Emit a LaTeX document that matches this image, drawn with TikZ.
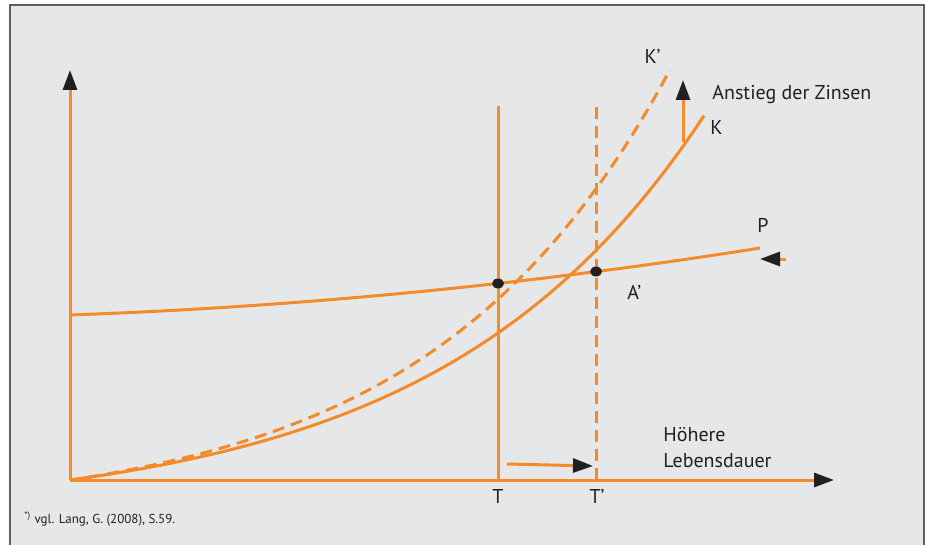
\documentclass[tikz,border=0pt]{standalone}
\usepackage{fontspec}
\setmainfont{PT Sans}
\usetikzlibrary{arrows.meta}

\definecolor{curve}{HTML}{F58A2A}
\definecolor{panel}{HTML}{E6E7E9}
\definecolor{frame}{HTML}{5F5F5F}
\definecolor{ink}{HTML}{231F20}

\tikzset{
    curveline/.style={draw=curve,line width=1.5pt},
    dashline/.style={curveline,dash pattern=on 6pt off 3.5pt},
    blacktip/.style={-{Triangle[length=10pt,width=7pt,color=ink]}},
    lbl/.style={text=ink,inner sep=0pt,font=\fontsize{10}{12}\selectfont}
}

\begin{document}
\begin{tikzpicture}[x=0.5pt,y=-0.5pt]

    \useasboundingbox (0,0) rectangle (930,545);

    % panel and frame
    \fill[panel] (10,5) rectangle (924,545);
    \draw[frame,line width=1pt] (10,545) -- (10,5) -- (924,5) -- (924,545);

    % axes
    \coordinate (O) at (70,480);
    \coordinate (Ytop) at (70,70);
    \coordinate (Xend) at (834,480);
    \draw[curveline,blacktip] (O) -- (Ytop);
    \draw[curveline,blacktip] (O) -- (Xend);

    % lifetimes T and T'
    \coordinate (T) at (498,480);
    \coordinate (Tp) at (596,480);
    \draw[curveline] (T) -- (498,106);
    \draw[dashline] (Tp) -- (596,106);
    \node[lbl,anchor=north] (labT) at (498,489) {T};
    \node[lbl,anchor=north] (labTp) at (597,489) {T'};

    % shift of T
    \coordinate (shiftA) at (507,464);
    \coordinate (shiftB) at (593,466);
    \draw[curveline,blacktip] (shiftA) -- (shiftB);
    \node[lbl,anchor=north west,align=left] (hoehere) at (663,427)
        {Höhere\\[1pt]Lebensdauer};

    % P curve
    \draw[curveline] plot[domain=0:690,samples=60]
        ({70+\x},{315-0.0357*\x-0.889*(\x/100)^2});
    \node[lbl,anchor=south west] (labP) at (757,233) {P};
    \coordinate (pA) at (786,259);
    \coordinate (pB) at (760,259);
    \draw[curveline,blacktip] (pA) -- (pB);

    % K curve
    \draw[curveline] plot[domain=0:634,samples=80]
        ({70+\x},{480-36*(exp(0.0038*\x)-1)});
    \node[lbl,anchor=west] (labK) at (710,128) {K};

    % K' curve (higher interest)
    \draw[dashline] plot[domain=0:600,samples=80]
        ({70+\x},{480-36*(exp(0.0042*\x)-1)});
    \node[lbl,anchor=east] (labKp) at (661,56) {K'};

    % rise of interest
    \coordinate (riseA) at (683,142);
    \coordinate (riseB) at (683,80);
    \draw[curveline,blacktip] (riseA) -- (riseB);
    \node[lbl,anchor=west] (anstieg) at (712,95) {Anstieg der Zinsen};

    % equilibria
    \fill[ink] (498,283.5) ellipse [x radius=3pt,y radius=2.5pt];
    \fill[ink] (596,271.5) ellipse [x radius=3pt,y radius=2.5pt];
    \node[lbl,anchor=west] (labA) at (627,292) {A'};

    % source
    \node[lbl,anchor=west,font=\fontsize{6.5}{8}\selectfont] (quelle) at (24,519)
        {\textsuperscript{*)} vgl. Lang, G. (2008), S.59.};

\end{tikzpicture}
\end{document}
